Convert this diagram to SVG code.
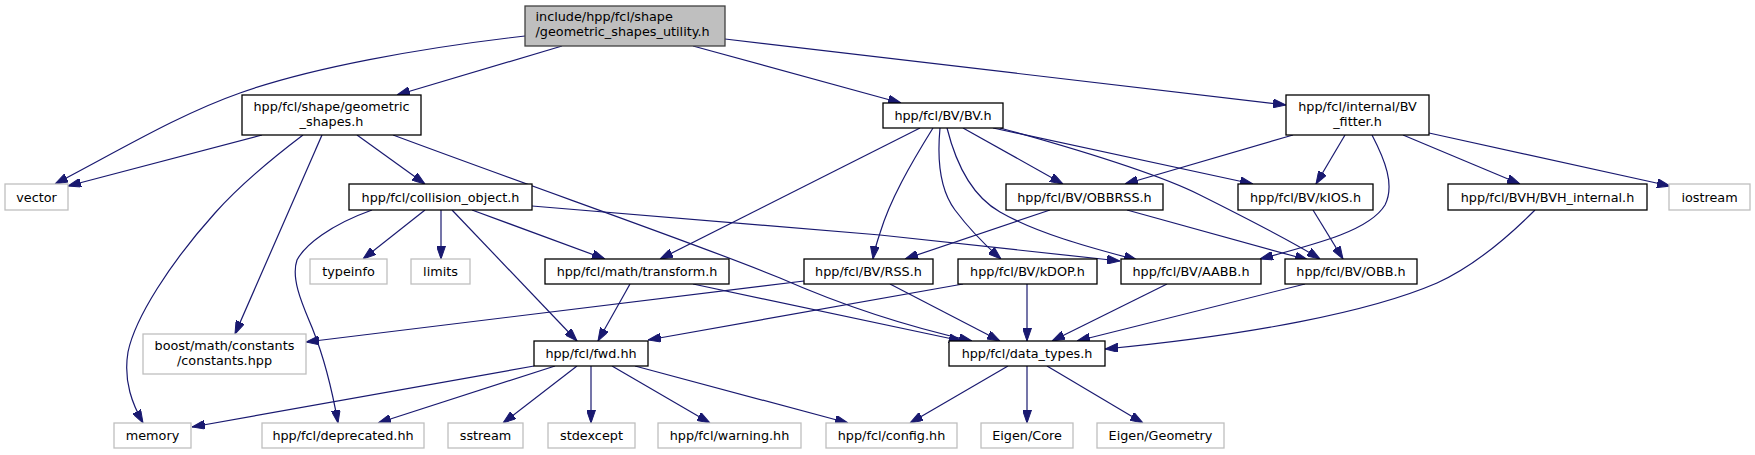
<svg xmlns="http://www.w3.org/2000/svg" width="1755" height="455" viewBox="0 0 1755 455">
<style>
.n rect{fill:#fff;stroke:#000;stroke-width:1.3}
.x rect{fill:#fff;stroke:#bfbfbf;stroke-width:1.3}
.m rect{fill:#bfbfbf;stroke:#404040;stroke-width:1.3}
text{font-family:"DejaVu Sans","Liberation Sans",sans-serif;font-size:12.8px;fill:#000;text-anchor:middle}
.e path{fill:none;stroke:#191970;stroke-width:1.2;marker-end:url(#a)}
</style>
<defs>
<marker id="a" viewBox="0 0 13 9" refX="13" refY="4.5" markerWidth="13" markerHeight="9" markerUnits="userSpaceOnUse" orient="auto">
<path d="M0,0 L13,4.5 L0,9 Z" fill="#191970" stroke="#191970" stroke-width="1"/>
</marker>
</defs>
<rect width="1755" height="455" fill="#fff"/>
<g class="e" id="edges">
<path d="M525,36 C420,48 310,68 240,93 C180,114 120,150 55,184"/>
<path d="M562,46 L397,95"/>
<path d="M693,46 L901,103"/>
<path d="M725,39 L1286,105"/>
<path d="M262,135 L68,186"/>
<path d="M303,135 C270,160 240,185 215,213 C170,263 135,318 128,352 C123,382 133,405 143,423"/>
<path d="M322,135 L235,334"/>
<path d="M357,135 L425,184"/>
<path d="M393,135 C560,197 700,245 780,278 C830,300 900,325 972,341"/>
<path d="M372,210 C330,225 305,245 297,260 C290,280 305,310 313,330 C325,360 333,395 338,423"/>
<path d="M425,210 L363,259"/>
<path d="M441,210 L441,259"/>
<path d="M452,210 L577,341"/>
<path d="M472,210 L605,259"/>
<path d="M532,206 L880,235 L1120,261"/>
<path d="M920,128 L660,259"/>
<path d="M933,128 C910,165 890,200 880,233 C876,245 874,252 873,259"/>
<path d="M940,128 C937,160 940,190 955,210 C970,230 985,245 1001,259"/>
<path d="M947,128 C955,160 970,195 1000,212 C1040,235 1100,250 1137,260"/>
<path d="M963,128 L1063,184"/>
<path d="M993,128 L1253,184"/>
<path d="M1000,128 C1080,150 1160,175 1200,195 C1240,215 1290,240 1320,259"/>
<path d="M1293,135 L1125,184"/>
<path d="M1345,135 L1316,184"/>
<path d="M1372,135 C1385,160 1395,185 1385,205 C1370,230 1320,243 1260,259"/>
<path d="M1403,135 L1520,184"/>
<path d="M1429,133 L1670,186"/>
<path d="M1050,210 L905,259"/>
<path d="M1127,210 L1308,260"/>
<path d="M1313,210 L1343,259"/>
<path d="M1535,210 C1500,245 1470,268 1437,283 C1370,312 1250,335 1105,349"/>
<path d="M804,281 L306,342"/>
<path d="M890,284 L1000,341"/>
<path d="M963,284 L648,340"/>
<path d="M1027,284 L1027,341"/>
<path d="M1167,284 L1052,341"/>
<path d="M1305,284 L1077,341"/>
<path d="M630,284 L598,341"/>
<path d="M693,284 L962,341"/>
<path d="M534,366 L192,427"/>
<path d="M555,366 L378,423"/>
<path d="M577,366 L503,423"/>
<path d="M591,366 L591,423"/>
<path d="M612,366 L710,423"/>
<path d="M635,366 L848,423"/>
<path d="M1008,366 L910,423"/>
<path d="M1027,366 L1027,423"/>
<path d="M1047,366 L1143,423"/>
</g>
<g id="main" class="m"><rect x="525" y="6" width="200" height="40"/><text x="535.5" y="21" style="text-anchor:start">include/hpp/fcl/shape</text><text x="535.5" y="36" style="text-anchor:start">/geometric_shapes_utility.h</text></g>
<g id="geometric_shapes" class="n"><rect x="242" y="95" width="179" height="40"/><text x="331.5" y="111">hpp/fcl/shape/geometric</text><text x="331.5" y="126">_shapes.h</text></g>
<g id="vector" class="x"><rect x="5" y="184" width="63" height="26"/><text x="36.5" y="201.5">vector</text></g>
<g id="collision_object" class="n"><rect x="349" y="184" width="183" height="26"/><text x="440.5" y="201.5">hpp/fcl/collision_object.h</text></g>
<g id="bv" class="n"><rect x="883" y="103" width="120" height="25"/><text x="943" y="120">hpp/fcl/BV/BV.h</text></g>
<g id="bv_fitter" class="n"><rect x="1286" y="95" width="143" height="40"/><text x="1357.5" y="111">hpp/fcl/internal/BV</text><text x="1357.5" y="126">_fitter.h</text></g>
<g id="obbrss" class="n"><rect x="1006" y="184" width="157" height="26"/><text x="1084.5" y="201.5">hpp/fcl/BV/OBBRSS.h</text></g>
<g id="kios" class="n"><rect x="1238" y="184" width="135" height="26"/><text x="1305.5" y="201.5">hpp/fcl/BV/kIOS.h</text></g>
<g id="bvh_internal" class="n"><rect x="1448" y="184" width="199" height="26"/><text x="1547.5" y="201.5">hpp/fcl/BVH/BVH_internal.h</text></g>
<g id="iostream" class="x"><rect x="1669" y="184" width="81" height="26"/><text x="1709.5" y="201.5">iostream</text></g>
<g id="typeinfo" class="x"><rect x="310" y="259" width="77" height="25"/><text x="348.5" y="276">typeinfo</text></g>
<g id="limits" class="x"><rect x="411" y="259" width="59" height="25"/><text x="440.5" y="276">limits</text></g>
<g id="transform" class="n"><rect x="545" y="259" width="184" height="25"/><text x="637" y="276">hpp/fcl/math/transform.h</text></g>
<g id="rss" class="n"><rect x="804" y="259" width="129" height="25"/><text x="868.5" y="276">hpp/fcl/BV/RSS.h</text></g>
<g id="kdop" class="n"><rect x="958" y="259" width="139" height="25"/><text x="1027.5" y="276">hpp/fcl/BV/kDOP.h</text></g>
<g id="aabb" class="n"><rect x="1121" y="259" width="140" height="25"/><text x="1191" y="276">hpp/fcl/BV/AABB.h</text></g>
<g id="obb" class="n"><rect x="1285" y="259" width="132" height="25"/><text x="1351" y="276">hpp/fcl/BV/OBB.h</text></g>
<g id="boost" class="x"><rect x="143" y="334" width="163" height="40"/><text x="224.5" y="350">boost/math/constants</text><text x="224.5" y="365">/constants.hpp</text></g>
<g id="fwd" class="n"><rect x="534" y="341" width="114" height="25"/><text x="591" y="358">hpp/fcl/fwd.hh</text></g>
<g id="data_types" class="n"><rect x="949" y="341" width="156" height="25"/><text x="1027" y="358">hpp/fcl/data_types.h</text></g>
<g id="memory" class="x"><rect x="114" y="423" width="77" height="25"/><text x="152.5" y="440">memory</text></g>
<g id="deprecated" class="x"><rect x="262" y="423" width="162" height="25"/><text x="343" y="440">hpp/fcl/deprecated.hh</text></g>
<g id="sstream" class="x"><rect x="448" y="423" width="75" height="25"/><text x="485.5" y="440">sstream</text></g>
<g id="stdexcept" class="x"><rect x="548" y="423" width="87" height="25"/><text x="591.5" y="440">stdexcept</text></g>
<g id="warning" class="x"><rect x="658" y="423" width="143" height="25"/><text x="729.5" y="440">hpp/fcl/warning.hh</text></g>
<g id="config" class="x"><rect x="826" y="423" width="131" height="25"/><text x="891.5" y="440">hpp/fcl/config.hh</text></g>
<g id="eigen_core" class="x"><rect x="981" y="423" width="92" height="25"/><text x="1027" y="440">Eigen/Core</text></g>
<g id="eigen_geometry" class="x"><rect x="1097" y="423" width="127" height="25"/><text x="1160.5" y="440">Eigen/Geometry</text></g>
</svg>
